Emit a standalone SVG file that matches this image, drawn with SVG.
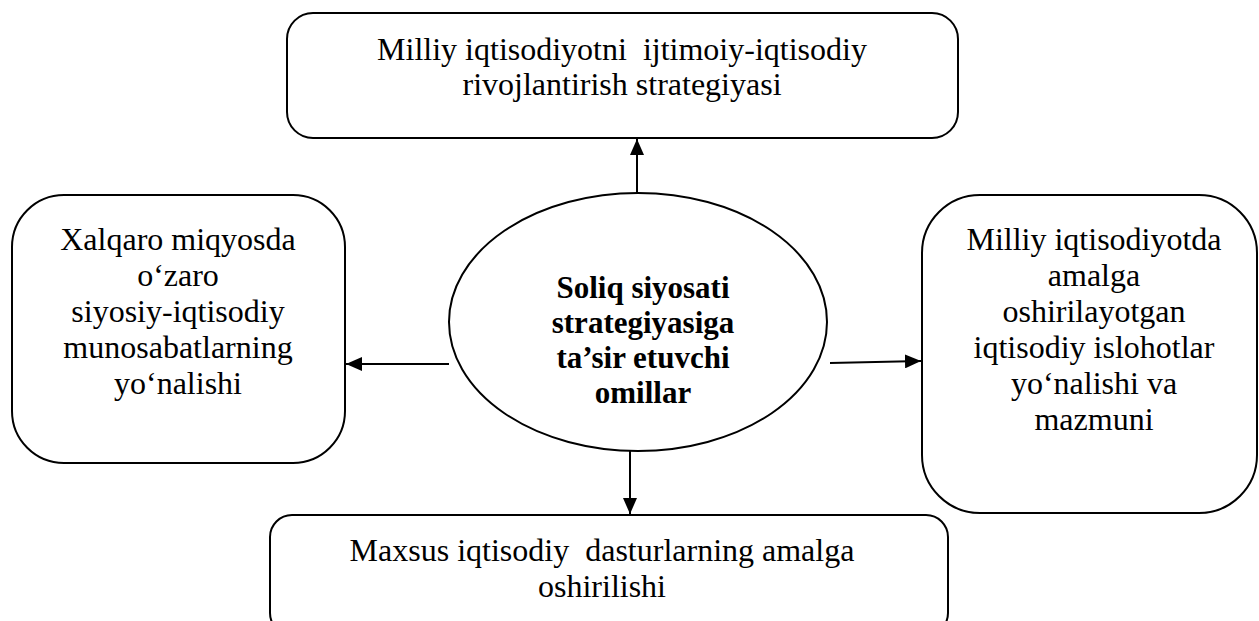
<svg xmlns="http://www.w3.org/2000/svg" width="1259" height="621" viewBox="0 0 1259 621">
<style>
.box{fill:#fff;stroke:#000;stroke-width:2}
.t{font-family:"Liberation Serif","Times New Roman",serif;font-size:32px;fill:#000;text-anchor:middle}
.b{font-family:"Liberation Serif","Times New Roman",serif;font-size:31px;font-weight:bold;fill:#000;text-anchor:middle}
.c{stroke:#000;stroke-width:2;fill:none;marker-end:url(#ah)}
</style>
<defs>
<marker id="ah" viewBox="0 0 16 14" refX="16" refY="7" markerWidth="16" markerHeight="14" markerUnits="userSpaceOnUse" orient="auto">
<path d="M0,0 L16,7 L0,14 Z" fill="#000"/>
</marker>
</defs>
<rect width="1259" height="621" fill="#fff"/>
<g id="connectors">
<line class="c" x1="637" y1="194" x2="637" y2="139"/>
<line class="c" x1="449" y1="364" x2="346" y2="364"/>
<line class="c" x1="830" y1="363" x2="921" y2="361"/>
<line class="c" x1="630" y1="451" x2="630" y2="514"/>
</g>
<g id="top">
<rect class="box" x="287" y="13" width="671" height="125" rx="26"/>
<text class="t" x="622" y="60" xml:space="preserve">Milliy iqtisodiyotni  ijtimoiy-iqtisodiy</text>
<text class="t" x="622" y="95">rivojlantirish strategiyasi</text>
</g>
<g id="left">
<rect class="box" x="12" y="195" width="333" height="268" rx="52"/>
<text class="t" x="178" y="250">Xalqaro miqyosda</text>
<text class="t" x="178" y="286">o‘zaro</text>
<text class="t" x="178" y="322">siyosiy-iqtisodiy</text>
<text class="t" x="178" y="358">munosabatlarning</text>
<text class="t" x="178" y="394">yo‘nalishi</text>
</g>
<g id="center">
<ellipse class="box" cx="638" cy="322" rx="189" ry="129"/>
<text class="b" x="643" y="298">Soliq siyosati</text>
<text class="b" x="643" y="333">strategiyasiga</text>
<text class="b" x="643" y="368">ta’sir etuvchi</text>
<text class="b" x="643" y="403">omillar</text>
</g>
<g id="right">
<rect class="box" x="922" y="195" width="335" height="318" rx="58"/>
<text class="t" x="1094" y="250">Milliy iqtisodiyotda</text>
<text class="t" x="1094" y="286">amalga</text>
<text class="t" x="1094" y="322">oshirilayotgan</text>
<text class="t" x="1094" y="358">iqtisodiy islohotlar</text>
<text class="t" x="1094" y="394">yo‘nalishi va</text>
<text class="t" x="1094" y="430">mazmuni</text>
</g>
<g id="bottom">
<rect class="box" x="270" y="515" width="678" height="120" rx="22"/>
<text class="t" x="602" y="561" xml:space="preserve">Maxsus iqtisodiy  dasturlarning amalga</text>
<text class="t" x="602" y="597">oshirilishi</text>
</g>
</svg>
